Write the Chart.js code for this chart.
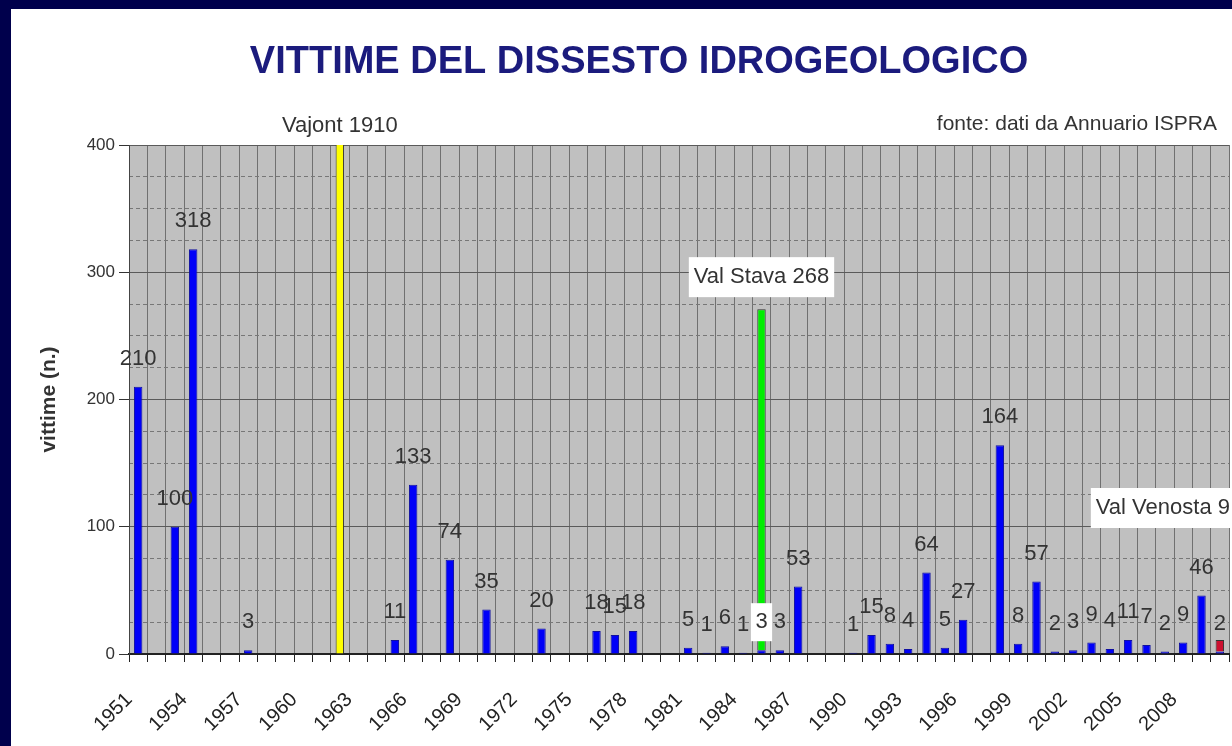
<!DOCTYPE html>
<html>
<head>
<meta charset="utf-8">
<script src="https://cdn.jsdelivr.net/npm/chart.js@4.4.1/dist/chart.umd.min.js"></script>
<style>
  html, body { margin: 0; padding: 0; width: 1232px; height: 746px; overflow: hidden; background: #00004c; }
  #slide { position: absolute; left: 11px; top: 9px; width: 1260px; height: 737px; background: #fff; }
</style>
</head>
<body>
<div id="slide"><canvas id="chart" width="1260" height="737"></canvas></div>
<script>
const years = [
  1951, 1952, 1953, 1954, 1955, 1956, 1957, 1958, 1959, 1960,
  1961, 1962, 1963, 1964, 1965, 1966, 1967, 1968, 1969, 1970,
  1971, 1972, 1973, 1974, 1975, 1976, 1977, 1978, 1979, 1980,
  1981, 1982, 1983, 1984, 1985, 1986, 1987, 1988, 1989, 1990,
  1991, 1992, 1993, 1994, 1995, 1996, 1997, 1998, 1999, 2000,
  2001, 2002, 2003, 2004, 2005, 2006, 2007, 2008, 2009, 2010
];

// victims per year (null = no bar)
const victims = [
  210, null, 100, 318, null, null, 3, null, null, null,
  null, null, null, null, 11, 133, null, 74, null, 35,
  null, null, 20, null, null, 18, 15, 18, null, null,
  5, 1, 6, 1, 3, 3, 53, null, null, 1,
  15, 8, 4, 64, 5, 27, null, 164, 8, 57,
  2, 3, 9, 4, 11, 7, 2, 9, 46, 2
];

// single disasters shown on top of the yearly bars
const eventNames = ['Vajont', 'Val Stava', 'Val Venosta'];
const eventYears = [1962, 1985, 2010];
const eventVictims = [1910, 268, 9];

const yTicks = [0, 100, 200, 300, 400];

const FONT = '"Liberation Sans", Arial, sans-serif';

const eventStyles = [
  { color: '#ffff00', dx: 0, dy: -19, align: 'center', box: false, clampTop: true },
  { color: '#00ee00', dx: 0, dy: -32, align: 'center', box: true },
  { color: '#cc1030', dx: -124, dy: -132, align: 'left', box: true }
];

const datasets = [{
  label: 'vittime',
  data: victims,
  backgroundColor: '#0000f8',
  borderColor: '#1010a0',
  borderWidth: 1,
  barPercentage: 0.46,
  categoryPercentage: 1
}];

eventNames.forEach((name, k) => {
  datasets.push({
    label: name,
    data: years.map(y => y === eventYears[k] ? eventVictims[k] : null),
    backgroundColor: eventStyles[k].color,
    borderColor: '#333',
    borderWidth: 1,
    barPercentage: 0.46,
    categoryPercentage: 1,
    note: name + ' ' + eventVictims[k],
    noteStyle: eventStyles[k]
  });
});

const plotBg = {
  id: 'plotBg',
  beforeDraw(chart) {
    const { ctx, chartArea: a } = chart;
    ctx.save();
    ctx.fillStyle = '#c0c0c0';
    ctx.fillRect(a.left, a.top, a.right - a.left, a.bottom - a.top);
    ctx.restore();
  },
  afterDraw(chart) {
    const { ctx, chartArea: a } = chart;
    ctx.save();
    ctx.textBaseline = 'middle';
    ctx.fillStyle = '#1b1b7d';
    ctx.font = 'bold 38px ' + FONT;
    ctx.textAlign = 'center';
    ctx.fillText('VITTIME DEL DISSESTO IDROGEOLOGICO', 628, 54);
    ctx.fillStyle = '#333';
    ctx.font = '21px ' + FONT;
    ctx.textAlign = 'right';
    ctx.fillText('fonte: dati da Annuario ISPRA', a.right - 12, a.top - 21);
    ctx.restore();
  }
};

const barLabels = {
  id: 'barLabels',
  afterDatasetsDraw(chart) {
    const { ctx, chartArea: a } = chart;
    ctx.save();
    ctx.font = '22px ' + FONT;
    ctx.textBaseline = 'middle';
    ctx.textAlign = 'center';
    chart.getDatasetMeta(0).data.forEach((bar, i) => {
      const v = victims[i];
      if (v == null) return;
      const y = bar.y - 28;
      const covered = chart.data.datasets.some((d, k) => k > 0 && d.data[i] > 100);
      if (covered) {
        const w = ctx.measureText(String(v)).width + 9;
        ctx.fillStyle = '#fff';
        ctx.fillRect(bar.x - w / 2, y - 19, w, 38);
      }
      ctx.fillStyle = '#333';
      ctx.fillText(String(v), bar.x, y);
    });
    chart.data.datasets.forEach((d, k) => {
      if (!d.note) return;
      const s = d.noteStyle;
      const bar = chart.getDatasetMeta(k).data.find((el, i) => d.data[i] != null);
      if (!bar) return;
      const top = s.clampTop ? Math.max(bar.y, a.top) : bar.y;
      const x = bar.x + s.dx;
      const y = top + s.dy;
      const w = ctx.measureText(d.note).width;
      ctx.textAlign = s.align;
      if (s.box) {
        const left = s.align === 'left' ? x - 5 : x - w / 2 - 5;
        ctx.fillStyle = '#fff';
        ctx.fillRect(left, y - 20, w + 10, 40);
      }
      ctx.fillStyle = '#333';
      ctx.fillText(d.note, x, y);
    });
    ctx.restore();
  }
};

new Chart(document.getElementById('chart'), {
  type: 'bar',
  data: { labels: years, datasets: datasets },
  options: {
    responsive: false,
    animation: false,
    layout: { padding: { top: 136, right: 42, left: 0, bottom: 0 } },
    plugins: { legend: { display: false }, tooltip: { enabled: false } },
    scales: {
      x: {
        stacked: true,
        grid: { color: '#707070', offset: true, tickLength: 8, tickColor: '#222' },
        border: { color: '#222', width: 2 },
        ticks: {
          autoSkip: false,
          minRotation: 45,
          maxRotation: 45,
          labelOffset: -9,
          padding: 26,
          color: '#222',
          font: { family: FONT, size: 20 },
          callback: (v, i) => (i % 3 === 0 ? String(years[i]) : '')
        },
        afterFit(axis) { axis.height = 92; }
      },
      y: {
        stacked: true,
        min: 0,
        max: 400,
        afterBuildTicks(axis) { axis.ticks = yTicks.map(v => ({ value: v })); },
        grid: { color: '#5a5a5a', tickLength: 10, tickColor: '#333' },
        border: { color: '#444' },
        ticks: { color: '#333', padding: 4, font: { family: FONT, size: 17 } },
        title: {
          display: true,
          text: 'vittime (n.)',
          color: '#333',
          font: { family: FONT, size: 21, weight: 'bold' },
          padding: { top: 26, bottom: 0 }
        },
        afterFit(axis) { axis.width = 118; }
      },
      yMinor: {
        position: 'left',
        min: 0,
        max: 400,
        ticks: { stepSize: 25, display: false },
        grid: {
          drawTicks: false,
          color: ctx => (ctx.tick && ctx.tick.value % 100 === 0 ? 'rgba(0,0,0,0)' : '#777')
        },
        border: { display: false, dash: [4, 3] },
        afterFit(axis) { axis.width = 0; }
      }
    }
  },
  plugins: [plotBg, barLabels]
});
</script>
</body>
</html>
